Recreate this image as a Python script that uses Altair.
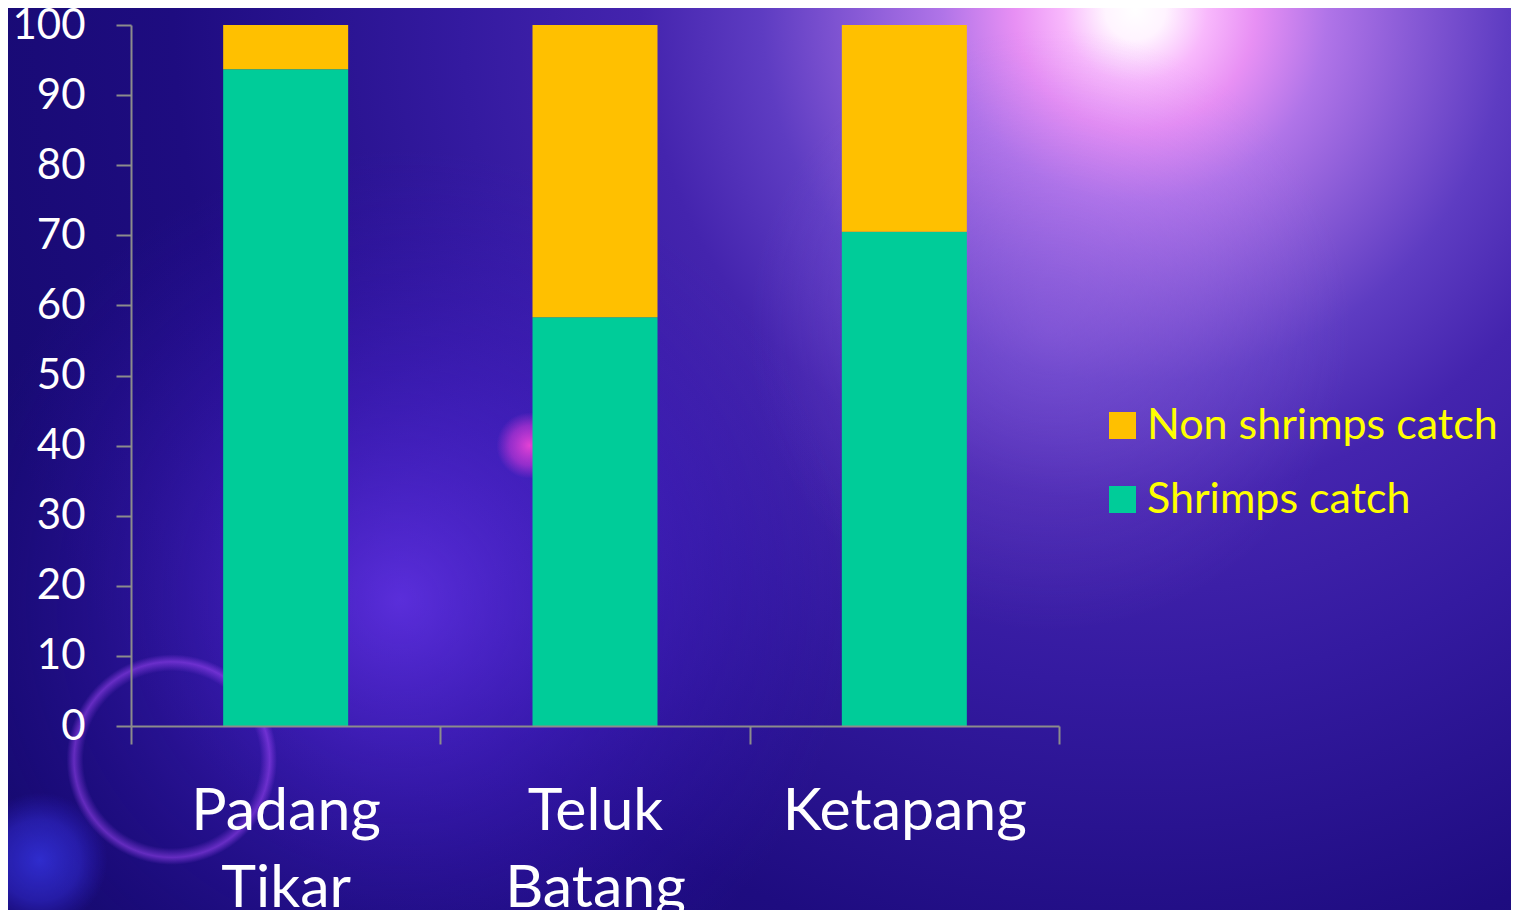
import altair as alt
import pandas as pd

sites = ["Padang Tikar", "Teluk Batang", "Ketapang"]
shrimps = [93.7, 58.3, 70.5]
non_shrimps = [6.3, 41.7, 29.5]
series = ["Non shrimps catch", "Shrimps catch"]
series_colors = ["#FFC000", "#00CC99"]
y_ticks = [0, 10, 20, 30, 40, 50, 60, 70, 80, 90, 100]

rows = []
for s, a, b in zip(sites, shrimps, non_shrimps):
    rows.append({"site": s, "series": "Shrimps catch", "value": a, "ord": 0})
    rows.append({"site": s, "series": "Non shrimps catch", "value": b, "ord": 1})
df = pd.DataFrame(rows)

W, H = 928, 701
PL, PT = 123, 17
PR = 1503 - W - PL
PB = 902 - H - PT

bgdata = pd.DataFrame({"k": [0]})


def backdrop(cx, cy, r, stops):
    # radial gradients are laid out in a square of the rect's width, centred vertically
    return alt.Chart(bgdata).mark_rect(
        fill={
            "gradient": "radial",
            "x1": cx, "y1": cy, "r1": 0.0,
            "x2": cx, "y2": cy, "r2": r,
            "stops": [{"offset": o, "color": c} for o, c in stops],
        },
        clip=False,
    ).encode(
        x=alt.value(-PL), x2=alt.value(W + PR),
        y=alt.value(-PT), y2=alt.value(H + PB),
    )


sun = backdrop(0.75, 0.201, 0.8, [
    (0.0, "#ffffff"),
    (0.025, "#fff4ff"),
    (0.06, "#f8b8fc"),
    (0.1, "#e890f4"),
    (0.16, "#b074e8"),
    (0.23, "#885ad6"),
    (0.31, "#5e3cc2"),
    (0.41, "#4424ae"),
    (0.56, "#341aa0"),
    (0.8, "#1e0c80"),
    (1.0, "#170a72"),
])
lavender = backdrop(0.693, 0.414, 0.2, [
    (0.0, "rgba(160,110,235,0.35)"),
    (1.0, "rgba(160,110,235,0)"),
])
glow = backdrop(0.261, 0.594, 0.3, [
    (0.0, "rgba(115,60,255,0.7)"),
    (0.45, "rgba(95,45,245,0.35)"),
    (1.0, "rgba(60,20,200,0)"),
])
blob = backdrop(0.021, 0.767, 0.045, [
    (0.0, "rgba(55,55,235,0.75)"),
    (0.6, "rgba(55,50,230,0.45)"),
    (1.0, "rgba(50,40,220,0)"),
])
ring = backdrop(0.109, 0.700, 0.07, [
    (0.0, "rgba(170,70,255,0)"),
    (0.84, "rgba(170,70,255,0)"),
    (0.93, "rgba(170,75,255,0.5)"),
    (1.0, "rgba(170,70,255,0)"),
])
spot = backdrop(0.347, 0.491, 0.022, [
    (0.0, "rgba(245,70,215,0.9)"),
    (0.6, "rgba(230,60,220,0.5)"),
    (1.0, "rgba(220,60,220,0)"),
])

bars = alt.Chart(df).mark_bar(size=125).encode(
    x=alt.X(
        "site:N",
        sort=sites,
        scale=alt.Scale(paddingInner=0, paddingOuter=0),
        axis=alt.Axis(
            title=None,
            labelAngle=0,
            labelExpr="split(datum.label, ' ')",
            labelFont="Lato",
            labelFontSize=59,
            labelColor="#ffffff",
            labelLineHeight=77,
            labelPadding=38,
            labelLimit=400,
            tickBand="extent",
            tickSize=18,
            tickColor="#8c8c8c",
            tickWidth=2,
            domainColor="#8c8c8c",
            domainWidth=2,
            grid=False,
            zindex=1,
        ),
    ),
    y=alt.Y(
        "value:Q",
        stack="zero",
        scale=alt.Scale(domain=[0, 100], nice=False),
        axis=alt.Axis(
            title=None,
            values=y_ticks,
            labelFont="Lato",
            labelFontSize=42,
            labelColor="#ffffff",
            labelPadding=31,
            tickSize=15,
            tickColor="#8c8c8c",
            tickWidth=2,
            domainColor="#8c8c8c",
            domainWidth=2,
            grid=False,
            zindex=1,
        ),
    ),
    color=alt.Color(
        "series:N",
        sort=series,
        scale=alt.Scale(domain=series, range=series_colors),
        legend=alt.Legend(
            title=None,
            orient="none",
            legendX=970,
            legendY=379,
            padding=0,
            symbolType="square",
            symbolSize=729,
            symbolStrokeWidth=0,
            symbolOpacity=1,
            labelFont="Lato",
            labelFontSize=43,
            labelColor="#ffff00",
            labelOffset=3,
            rowPadding=30,
            labelLimit=600,
        ),
    ),
    order=alt.Order("ord:Q"),
)

chart = alt.layer(sun, lavender, glow, blob, ring, spot, bars).properties(
    width=W,
    height=H,
    padding={"left": PL, "top": PT, "right": PR, "bottom": PB},
    autosize=alt.AutoSizeParams(type="none"),
    background="#2a0e8e",
).configure_view(stroke=None)

chart.save("out.html", embed_options={"renderer": "svg", "actions": False})
